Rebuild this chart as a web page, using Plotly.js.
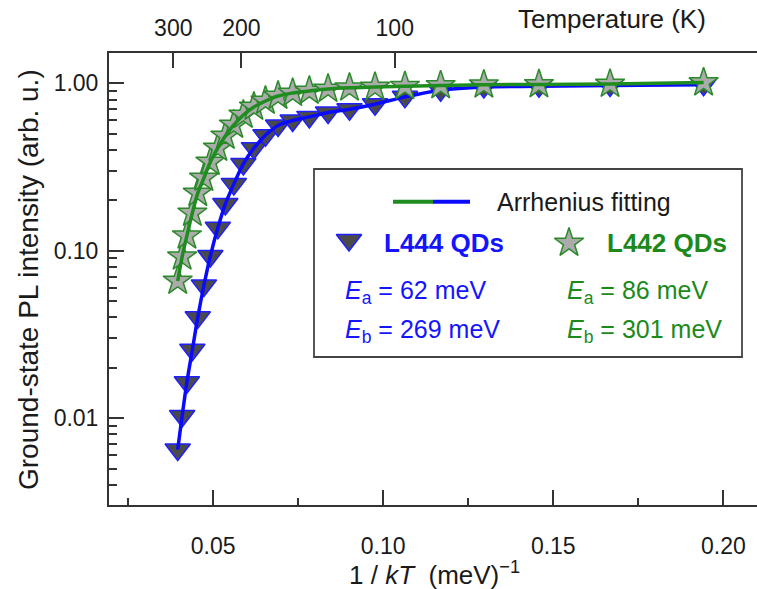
<!DOCTYPE html>
<html>
<head>
<meta charset="utf-8">
<script src="https://cdn.plot.ly/plotly-3.0.1.min.js"></script>
<style>
  html, body { margin: 0; padding: 0; background: #ffffff; }
  #chart { width: 757px; height: 589px; }
</style>
</head>
<body>
<div id="chart"></div>
<script>
// Inverse thermal energy 1/kT (meV^-1) of each measurement, 300 K down to 60 K
const invKT = [0.0396, 0.0409, 0.0423, 0.0439, 0.0455, 0.0473, 0.0492, 0.0514, 0.0536,
               0.0561, 0.0589, 0.0620, 0.0654, 0.0691, 0.0734, 0.0783, 0.0838, 0.0901,
               0.0976, 0.1064, 0.1169, 0.1296, 0.1458, 0.1667, 0.1942];

// Normalised ground-state PL intensity
const l444 = [0.0065, 0.0103, 0.0164, 0.0256, 0.040, 0.062, 0.093, 0.137, 0.19,
              0.25, 0.33, 0.41, 0.49, 0.56, 0.60, 0.63, 0.67, 0.70,
              0.75, 0.83, 0.91, 0.95, 0.96, 0.97, 0.98];
const l442 = [0.066, 0.092, 0.123, 0.168, 0.221, 0.272, 0.339, 0.411, 0.485,
              0.564, 0.647, 0.722, 0.784, 0.840, 0.875, 0.90, 0.925, 0.94,
              0.95, 0.96, 0.97, 0.98, 0.985, 0.99, 1.01];

// Secondary (temperature) axis ticks
const tempTickPos = [0.0383, 0.0583, 0.1034];
const tempTickText = ['300', '200', '100'];

// Legend texts
const seriesNames = ['L444 QDs', 'L442 QDs'];
const activation = {
  l444: ['62', '269'],
  l442: ['86', '301']
};

const FONT = 'Liberation Sans, Arial, Helvetica, sans-serif';
const BLUE = '#1414ff';
const BLUE_LINE = '#0a0aff';
const GREEN = '#1b8a1b';
const GREEN_LINE = '#1e8c1e';
const AXIS = '#333333';
const INK = '#1a1a1a';

const xRange = [0.0194, 0.2099];
const yRange = [Math.log10(0.00303), Math.log10(1.517)];

// pixel helpers for the plot area (left 109, right 757, top 53, bottom 505)
const px = x => (x - 109) / 648;
const py = y => (505 - y) / 452;

const triMarker = { symbol: 'triangle-down', size: 22, color: '#4a4a4a', line: { color: '#2020ff', width: 1.5 } };
const starMarker = { symbol: 'star', size: 22, color: '#ababab', line: { color: '#2a8a2a', width: 1.5 } };

const traces = [
  { x: invKT, y: l444, mode: 'markers', marker: triMarker, showlegend: false, hoverinfo: 'skip' },
  { x: invKT, y: l444, mode: 'lines', line: { color: BLUE_LINE, width: 3.5, shape: 'spline', smoothing: 1 }, showlegend: false, hoverinfo: 'skip' },
  { x: invKT, y: l442, mode: 'markers', marker: starMarker, showlegend: false, hoverinfo: 'skip' },
  { x: invKT, y: l442, mode: 'lines', line: { color: GREEN_LINE, width: 3.5, shape: 'spline', smoothing: 1 }, showlegend: false, hoverinfo: 'skip' },
  // empty trace that attaches the temperature axis on top
  { x: tempTickPos, y: tempTickPos.map(() => null), xaxis: 'x2', yaxis: 'y', mode: 'markers', showlegend: false, hoverinfo: 'skip' },
  // legend symbols, placed on a hidden unit overlay
  { x: [px(349)], y: [py(240)], xaxis: 'x3', yaxis: 'y3', mode: 'markers', marker: triMarker, showlegend: false, hoverinfo: 'skip' },
  { x: [px(569)], y: [py(243)], xaxis: 'x3', yaxis: 'y3', mode: 'markers', marker: starMarker, showlegend: false, hoverinfo: 'skip' }
];

const tickFont = { family: FONT, size: 23, color: INK };

function label(text, x, y, opts) {
  return Object.assign({
    text: text, xref: 'paper', yref: 'paper', x: px(x), y: py(y),
    xanchor: 'center', yanchor: 'middle', showarrow: false,
    font: { family: FONT, size: 25, color: INK }
  }, opts || {});
}

const layout = {
  width: 757,
  height: 589,
  margin: { l: 109, r: 0, t: 53, b: 84 },
  paper_bgcolor: '#ffffff',
  plot_bgcolor: '#ffffff',
  font: { family: FONT, color: INK },
  showlegend: false,
  xaxis: {
    range: xRange,
    showgrid: false, zeroline: false,
    showline: true, linecolor: AXIS, linewidth: 2,
    ticks: 'inside', ticklen: 15, tickwidth: 2, tickcolor: AXIS,
    dtick: 0.05, tick0: 0, tickformat: '.2f',
    minor: { dtick: 0.025, ticks: 'inside', ticklen: 7, tickwidth: 2, tickcolor: AXIS, showgrid: false },
    tickfont: tickFont,
    ticklabelstandoff: 19
  },
  xaxis2: {
    overlaying: 'x', side: 'top', anchor: 'y',
    range: xRange,
    showgrid: false, zeroline: false,
    showline: true, linecolor: AXIS, linewidth: 2,
    ticks: 'inside', ticklen: 15, tickwidth: 2, tickcolor: AXIS,
    tickmode: 'array', tickvals: tempTickPos, ticktext: tempTickText,
    tickfont: tickFont,
    ticklabelstandoff: 6
  },
  yaxis: {
    type: 'log',
    range: yRange,
    showgrid: false, zeroline: false,
    showline: true, linecolor: AXIS, linewidth: 2,
    ticks: 'inside', ticklen: 15, tickwidth: 2, tickcolor: AXIS,
    dtick: 1, tickformat: '.2f',
    minor: { dtick: 'D1', ticks: 'inside', ticklen: 8, tickwidth: 2, tickcolor: AXIS, showgrid: false },
    tickfont: tickFont,
    ticklabelstandoff: 4
  },
  xaxis3: { overlaying: 'x', range: [0, 1], visible: false, fixedrange: true },
  yaxis3: { overlaying: 'y', range: [0, 1], visible: false, fixedrange: true },
  shapes: [
    // legend frame
    { type: 'rect', xref: 'paper', yref: 'paper', x0: px(314), x1: px(742), y0: py(357), y1: py(169),
      line: { color: '#444444', width: 1.8 }, fillcolor: 'rgba(0,0,0,0)' },
    // two-colour fit line sample
    { type: 'line', xref: 'paper', yref: 'paper', x0: px(393), x1: px(433), y0: py(201.7), y1: py(201.7),
      line: { color: GREEN_LINE, width: 4 } },
    { type: 'line', xref: 'paper', yref: 'paper', x0: px(433), x1: px(470), y0: py(201.7), y1: py(201.7),
      line: { color: BLUE_LINE, width: 4 } }
  ],
  annotations: [
    label('Ground-state PL intensity (arb. u.)', 28, 280, { textangle: -90, font: { family: FONT, size: 28, color: INK } }),
    label('1 / <i>kT</i>\u00a0 (meV)<sup>\u22121</sup>', 434, 573, { font: { family: FONT, size: 26, color: INK } }),
    label('Temperature (K)', 612, 19, { font: { family: FONT, size: 26, color: INK } }),
    label('Arrhenius fitting', 495, 201.7, { xanchor: 'left' }),
    label('<b>' + seriesNames[0] + '</b>', 382, 243, { xanchor: 'left', font: { family: FONT, size: 26, color: BLUE } }),
    label('<b>' + seriesNames[1] + '</b>', 605, 243, { xanchor: 'left', font: { family: FONT, size: 26, color: GREEN } }),
    label('<i>E</i><sub>a</sub> = ' + activation.l444[0] + ' meV', 343, 292, { xanchor: 'left', font: { family: FONT, size: 25, color: BLUE } }),
    label('<i>E</i><sub>b</sub> = ' + activation.l444[1] + ' meV', 343, 331, { xanchor: 'left', font: { family: FONT, size: 25, color: BLUE } }),
    label('<i>E</i><sub>a</sub> = ' + activation.l442[0] + ' meV', 565, 292, { xanchor: 'left', font: { family: FONT, size: 25, color: GREEN } }),
    label('<i>E</i><sub>b</sub> = ' + activation.l442[1] + ' meV', 565, 331, { xanchor: 'left', font: { family: FONT, size: 25, color: GREEN } })
  ]
};

Plotly.newPlot('chart', traces, layout, { staticPlot: true, displayModeBar: false });
</script>
</body>
</html>
